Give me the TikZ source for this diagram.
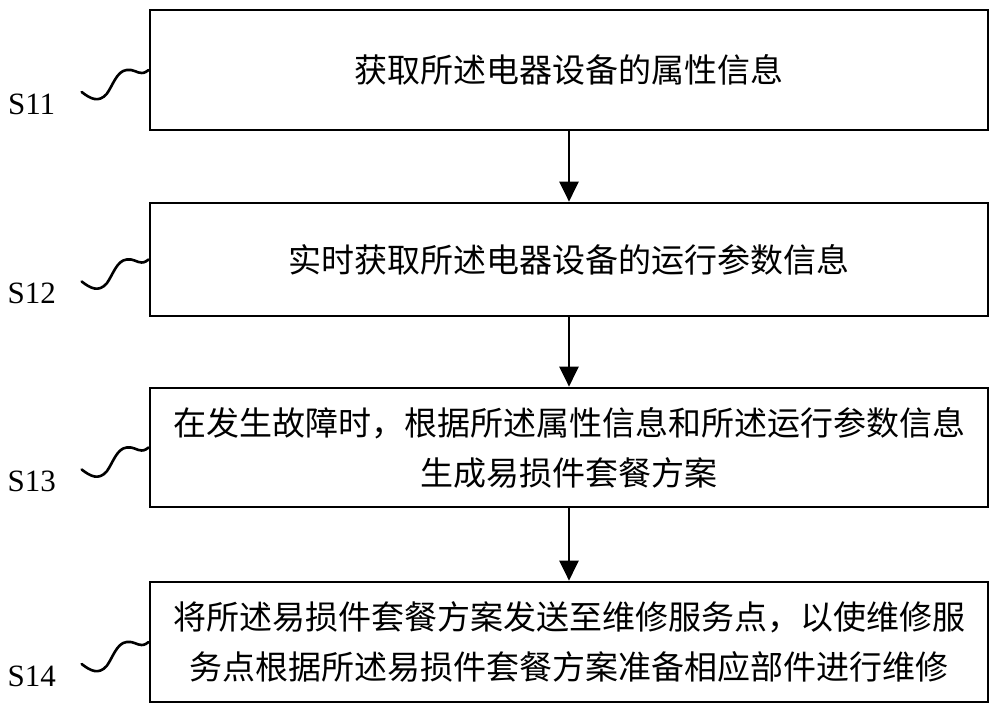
\documentclass[tikz,border=0pt]{standalone}
\usepackage{fontspec}
\newfontfamily\cjk{Noto Sans CJK SC}
\newfontfamily\lbl{Liberation Serif}
\usetikzlibrary{arrows.meta}
\begin{document}
\begin{tikzpicture}[x=1pt,y=-1pt,
  stepbox/.style={draw, line width=2.7pt, rectangle, inner sep=0pt,
    minimum width=838pt, align=center,
    font=\cjk\fontsize{33}{50}\selectfont},
  flowarrow/.style={line width=2.6pt, -{Triangle[length=20pt,width=19pt]}},
  squig/.style={line width=2.6pt, line cap=round},
  steplabel/.style={font=\lbl\fontsize{31}{36}\selectfont, inner sep=0pt}]
\useasboundingbox (0,0) rectangle (1000,714);
\node[stepbox, minimum height=120pt] (b1) at (569,70) {获取所述电器设备的属性信息};
\node[stepbox, minimum height=113pt] (b2) at (569,259.5) {实时获取所述电器设备的运行参数信息};
\node[stepbox, minimum height=119pt] (b3) at (569,447.5) {在发生故障时，根据所述属性信息和所述运行参数信息\\生成易损件套餐方案};
\node[stepbox, minimum height=120pt] (b4) at (569,642) {将所述易损件套餐方案发送至维修服务点，以使维修服\\务点根据所述易损件套餐方案准备相应部件进行维修};
\draw[flowarrow] (b1.south) -- (b2.north);
\draw[flowarrow] (b2.south) -- (b3.north);
\draw[flowarrow] (b3.south) -- (b4.north);
\foreach \b/\t in {b1/S11,b2/S12,b3/S13,b4/S14}{
  \node[steplabel] (l\b) at ([xshift=-117pt,yshift=-34pt]\b.west) {\t};
  \coordinate (w\b) at ([shift={(-67,22)}]\b.west);
  \draw[squig] (w\b)
     .. controls ([shift={(-58,29)}]\b.west) and ([shift={(-50,33)}]\b.west) .. ([shift={(-42,24)}]\b.west)
     .. controls ([shift={(-36,16)}]\b.west) and ([shift={(-32,1)}]\b.west) .. ([shift={(-22,0)}]\b.west)
     .. controls ([shift={(-15,-1)}]\b.west) and ([shift={(-12,3)}]\b.west) .. ([shift={(-7,3)}]\b.west)
     .. controls ([shift={(-3,3)}]\b.west) and ([shift={(-2,1)}]\b.west) .. (\b.west);
}
\end{tikzpicture}
\end{document}
